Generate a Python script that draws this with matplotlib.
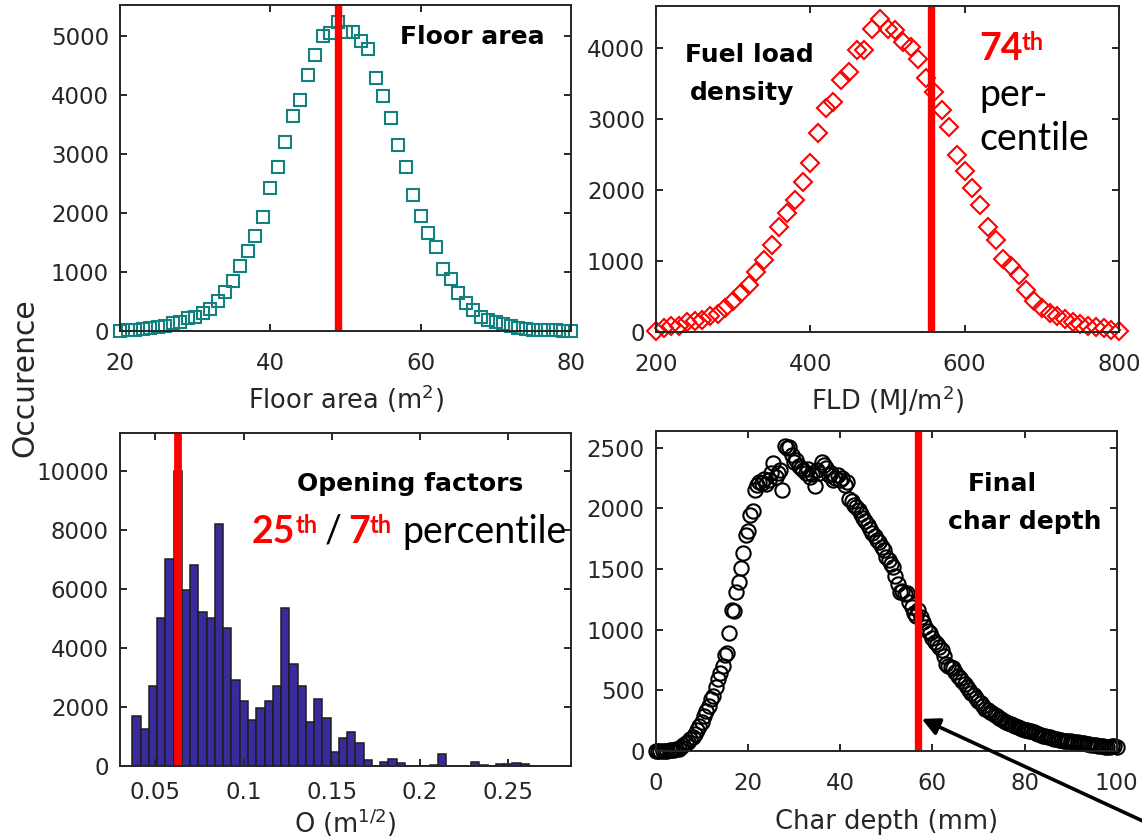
import matplotlib
matplotlib.use("Agg")
import matplotlib.pyplot as plt
import numpy as np

W, H = 1142, 839

# Floor area (m2) - occurrence
floor_x = list(range(20, 81))
floor_y = [0, 15, 20, 30, 45, 60, 85, 130, 150, 215,
           245, 300, 370, 510, 665, 850, 1110, 1360, 1610, 1940,
           2430, 2775, 3210, 3650, 3915, 4340, 4680, 5000, 5055, 5245,
           5075, 5075, 4920, 4775, 4295, 3990, 3615, 3150, 2785, 2305,
           1950, 1665, 1420, 1050, 880, 640, 480, 355, 245, 185,
           160, 120, 85, 55, 30, 20, 15, 10, 10, 5,
           5]
floor_pct = 49

# Fuel load density (MJ/m2) - occurrence
fld_x = list(range(200, 801, 10))
fld_y = [10, 55, 80, 90, 135, 150, 175, 230, 260, 335,
         430, 550, 665, 850, 1015, 1225, 1485, 1670, 1860, 2115,
         2375, 2805, 3150, 3240, 3545, 3660, 3975, 3965, 4270, 4400,
         4270, 4250, 4085, 4015, 3850, 3570, 3380, 3125, 2890, 2490,
         2260, 2025, 1790, 1485, 1300, 1025, 925, 805, 595, 430,
         335, 265, 220, 185, 135, 115, 90, 70, 55, 35,
         20]
fld_pct = 557

# Opening factor histogram
of_first_edge = 0.0370
of_bin_width = 0.00468
of_counts = [1684, 1243, 2712, 5028, 7028, 10000, 5955, 6825, 5232, 5006,
             8203, 4689, 2927, 2203, 1571, 1955, 2203, 2712, 5345, 3469,
             2723, 1503, 2271, 1627, 463, 938, 1141, 780, 215, 0,
             136, 226, 113, 10, 0, 0, 34, 407, 0, 0,
             0, 124, 45, 10, 79, 79, 90, 79, 5, 5,
             0, 0]
of_pct = 0.0628

# Final char depth (mm) - occurrence, 0.5 mm steps
char_x = np.arange(0, 100.5, 0.5)
char_y = [0, 0, 0, 0, 3, 3, 5, 6, 10, 14,
          20, 33, 48, 62, 75, 95, 115, 140, 170, 205,
          240, 290, 330, 370, 430, 455, 525, 590, 640, 700,
          790, 810, 970, 1160, 1150, 1310, 1390, 1505, 1630, 1780,
          1810, 1945, 1975, 2150, 2190, 2220, 2205, 2245, 2200, 2235,
          2290, 2370, 2260, 2290, 2315, 2150, 2510, 2495, 2505, 2440,
          2385, 2400, 2345, 2330, 2315, 2290, 2320, 2260, 2280, 2180,
          2315, 2290, 2385, 2360, 2330, 2275, 2290, 2235, 2250, 2275,
          2235, 2250, 2190, 2220, 2080, 2060, 2030, 2010, 1985, 1950,
          1920, 1895, 1860, 1830, 1800, 1770, 1735, 1720, 1680, 1655,
          1600, 1575, 1545, 1520, 1440, 1380, 1310, 1320, 1290, 1300,
          1230, 1190, 1135, 1110, 1160, 1105, 1060, 1025, 990, 970,
          930, 900, 880, 860, 830, 780, 720, 700, 690, 680,
          650, 620, 600, 575, 550, 530, 505, 480, 460, 440,
          410, 395, 370, 350, 340, 325, 310, 300, 285, 270,
          265, 250, 240, 232, 222, 215, 205, 198, 187, 182,
          176, 173, 168, 162, 158, 150, 140, 132, 126, 120,
          116, 112, 106, 100, 95, 90, 88, 86, 85, 82,
          79, 77, 75, 72, 70, 66, 62, 58, 55, 52,
          50, 46, 42, 40, 38, 37, 36, 36, 38, 40,
          36]
char_pct = 57

plt.rcParams["font.family"] = "DejaVu Sans"
plt.rcParams["font.size"] = 16.5
plt.rcParams["axes.linewidth"] = 1.4
plt.rcParams["axes.edgecolor"] = "#262626"
plt.rcParams["xtick.color"] = "#262626"
plt.rcParams["ytick.color"] = "#262626"

fig = plt.figure(figsize=(W / 100, H / 100), dpi=100)


def box(l, t, r, b):
    return [l / W, 1 - b / H, (r - l) / W, (b - t) / H]


def fxy(x, y):
    return x / W, 1 - y / H


def style(ax, xpad):
    ax.tick_params(direction="in", top=True, right=True, length=5, width=1.4,
                   labelsize=16.5)
    ax.tick_params(axis="x", pad=xpad)
    ax.tick_params(axis="y", pad=8)


red = "#ff0000"
lab_col = "#262626"
lab_size = 18.5

# top left
ax1 = fig.add_axes(box(120, 5, 571, 331))
ax1.plot(floor_x, floor_y, "s", mfc="none", mec="#13827f", ms=8.5, mew=1.5, clip_on=False)
ax1.plot([floor_pct, floor_pct], [45, 5470], color=red, lw=5.3)
ax1.set_xlim(20, 80)
ax1.set_ylim(0, 5525)
ax1.set_xticks([20, 40, 60, 80])
ax1.set_yticks([0, 1000, 2000, 3000, 4000, 5000])
ax1.set_xlabel("Floor area (m$^2$)", color=lab_col, fontsize=lab_size, labelpad=5.5)
style(ax1, 15)

# top right
ax2 = fig.add_axes(box(656, 6, 1119, 332))
ax2.plot(fld_x, fld_y, "D", mfc="none", mec=red, ms=8.8, mew=1.5, clip_on=False)
ax2.plot([fld_pct, fld_pct], [56, 4546], color=red, lw=5.3)
ax2.set_xlim(200, 800)
ax2.set_ylim(0, 4590)
ax2.set_xticks([200, 400, 600, 800])
ax2.set_yticks([0, 1000, 2000, 3000, 4000])
ax2.set_xlabel("FLD (MJ/m$^2$)", color=lab_col, fontsize=lab_size, labelpad=5.5)
style(ax2, 15)

# bottom left
ax3 = fig.add_axes(box(120, 433, 571, 766))
edges = of_first_edge + of_bin_width * np.arange(len(of_counts) + 1)
ax3.bar(edges[:-1], of_counts, width=of_bin_width, align="edge",
        color="#3a2b9c", edgecolor="#1e1e1e", lw=1.1)
ax3.plot([of_pct, of_pct], [0, 11220], color=red, lw=5.6)
ax3.set_xlim(0.030, 0.2855)
ax3.set_ylim(0, 11290)
ax3.set_xticks([0.05, 0.1, 0.15, 0.2, 0.25])
ax3.set_xticklabels(["0.05", "0.1", "0.15", "0.2", "0.25"])
ax3.set_yticks([0, 2000, 4000, 6000, 8000, 10000])
ax3.set_xlabel("O (m$^{1/2}$)", color=lab_col, fontsize=lab_size, labelpad=1.5)
style(ax3, 11)

# bottom right
ax4 = fig.add_axes(box(655.7, 431, 1116.7, 751))
ax4.plot(char_x, char_y, "o", mfc="none", mec="black", ms=10.3, mew=1.5, clip_on=False)
ax4.plot([char_pct, char_pct], [0, 2604], color=red, lw=5.3)
ax4.set_xlim(0, 100)
ax4.set_ylim(0, 2637)
ax4.set_xticks([0, 20, 40, 60, 80, 100])
ax4.set_yticks([0, 500, 1000, 1500, 2000, 2500])
ax4.set_xlabel("Char depth (mm)", color=lab_col, fontsize=lab_size, labelpad=10)
style(ax4, 15)

ax4.annotate("", xy=(57.7, 265), xycoords="data",
             xytext=(1.003, 0.02), textcoords="figure fraction",
             arrowprops=dict(arrowstyle="-|>", lw=2.6, color="black",
                             mutation_scale=26, shrinkA=0, shrinkB=0),
             annotation_clip=False)

# common y label
fig.text(*fxy(25, 378), "Occurence", rotation=90, ha="center", va="center",
         color=lab_col, fontsize=21.5,
         family=["Liberation Sans Narrow", "DejaVu Sans Condensed", "DejaVu Sans"])

# panel captions
bold = dict(fontweight="bold", fontsize=18, color="black", va="baseline")
fig.text(*fxy(472, 44), "Floor area", ha="center", **bold)
fig.text(*fxy(685, 62), "Fuel load", ha="left", **bold)
fig.text(*fxy(690, 100), "density", ha="left", **bold)
fig.text(*fxy(410, 491), "Opening factors", ha="center", **bold)
fig.text(*fxy(968, 491), "Final", ha="left", **bold)
fig.text(*fxy(948, 529), "char depth", ha="left", **bold)

# percentile notes
cal = ["Lato", "DejaVu Sans"]
fig.text(*fxy(979, 60), "74", color=red, fontsize=27, fontweight="bold",
         family=cal, va="baseline")
fig.text(*fxy(1022, 50), "th", color=red, fontsize=17, fontweight="bold",
         family=cal, va="baseline")
fig.text(*fxy(979, 106), "per-", color="black", fontsize=27, family=cal, va="baseline")
fig.text(*fxy(979, 150), "centile", color="black", fontsize=27, family=cal, va="baseline")

fig.text(*fxy(252, 543), "25", color=red, fontsize=27, fontweight="bold",
         family=cal, va="baseline")
fig.text(*fxy(296, 533), "th", color=red, fontsize=17, fontweight="bold",
         family=cal, va="baseline")
fig.text(*fxy(325, 543), "/", color="black", fontsize=27, family=cal, va="baseline")
fig.text(*fxy(348, 543), "7", color=red, fontsize=27, fontweight="bold",
         family=cal, va="baseline")
fig.text(*fxy(370, 533), "th", color=red, fontsize=17, fontweight="bold",
         family=cal, va="baseline")
fig.text(*fxy(402, 543), "percentile", color="black", fontsize=27, family=cal,
         va="baseline")

fig.savefig("out.png", dpi=100)
